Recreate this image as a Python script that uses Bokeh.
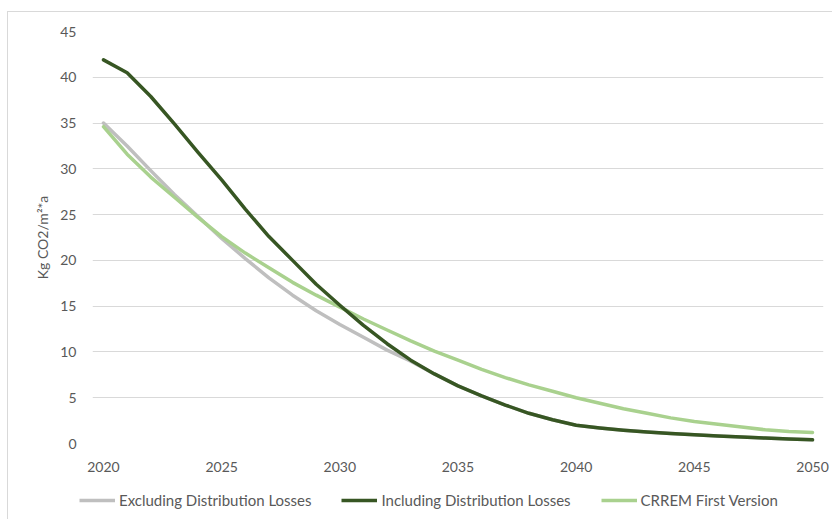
from bokeh.plotting import figure
from bokeh.layouts import column
from bokeh.models import (ColumnDataSource, FixedTicker, Range1d, Legend, LegendItem)
from bokeh.embed import file_html
from bokeh.resources import INLINE

years = list(range(2020, 2051))
excluding = [35.0, 32.5, 29.8, 27.2, 24.8, 22.4, 20.2, 18.1, 16.2, 14.5, 13.0,
             11.6, 10.2, 9.0, 7.6, 6.3, 5.2, 4.2, 3.3, 2.6, 2.0,
             1.7, 1.45, 1.25, 1.1, 0.95, 0.82, 0.7, 0.6, 0.5, 0.4]
including = [41.9, 40.5, 37.9, 34.9, 31.8, 28.8, 25.6, 22.6, 20.0, 17.4, 15.1,
             12.9, 10.9, 9.1, 7.6, 6.3, 5.2, 4.2, 3.3, 2.6, 2.0,
             1.7, 1.45, 1.25, 1.1, 0.95, 0.82, 0.7, 0.6, 0.5, 0.4]
crrem = [34.6, 31.6, 29.1, 26.9, 24.7, 22.6, 20.8, 19.2, 17.6, 16.2, 14.9,
         13.6, 12.4, 11.2, 10.1, 9.1, 8.1, 7.2, 6.4, 5.7, 5.0,
         4.4, 3.8, 3.3, 2.8, 2.4, 2.1, 1.8, 1.5, 1.3, 1.2]
series_names = ["Excluding Distribution Losses", "Including Distribution Losses",
                "CRREM First Version"]
x_ticks = [2020, 2025, 2030, 2035, 2040, 2045, 2050]
y_ticks = [0, 5, 10, 15, 20, 25, 30, 35, 40, 45]
y_label = "Kg CO2/m²*a"

FONT = "Lato"
TXT = "#595959"
COLORS = ["#BFBFBF", "#375623", "#A9D18E"]

src = ColumnDataSource(dict(year=years, excl=excluding, incl=including, crrem=crrem))

p = figure(width=824, height=465, output_backend="svg", toolbar_location=None,
           x_range=Range1d(2019.535, 2050.465), y_range=Range1d(0, 45),
           min_border_left=84, min_border_right=9, min_border_top=19,
           min_border_bottom=34)
p.outline_line_color = None
p.background_fill_color = "white"
p.border_fill_color = "white"

r1 = p.line("year", "excl", source=src, line_color=COLORS[0], line_width=3.5,
            line_join="round", line_cap="round")
r3 = p.line("year", "crrem", source=src, line_color=COLORS[2], line_width=3.5,
            line_join="round", line_cap="round")
r2 = p.line("year", "incl", source=src, line_color=COLORS[1], line_width=3.5,
            line_join="round", line_cap="round")

for ax in (p.xaxis[0], p.yaxis[0]):
    ax.axis_line_color = None
    ax.major_tick_line_color = None
    ax.minor_tick_line_color = None
    ax.major_label_text_font = FONT
    ax.major_label_text_font_size = "14px"
    ax.major_label_text_color = TXT

p.xaxis.ticker = FixedTicker(ticks=x_ticks)
p.yaxis.ticker = FixedTicker(ticks=y_ticks)
p.xaxis.major_label_standoff = 12
p.yaxis.major_label_standoff = 10
p.yaxis.axis_label = y_label
p.yaxis.axis_label_text_font = FONT
p.yaxis.axis_label_text_font_size = "14px"
p.yaxis.axis_label_text_font_style = "normal"
p.yaxis.axis_label_text_color = TXT
p.yaxis.axis_label_standoff = 6

p.xgrid.grid_line_color = None
p.ygrid.grid_line_color = "#D9D9D9"
p.ygrid.grid_line_width = 1

# legend strip (its lines lie outside its view; only the legend shows)
q = figure(width=824, height=42, output_backend="svg", toolbar_location=None,
           x_range=Range1d(0, 1), y_range=Range1d(100, 101),
           x_axis_location=None, y_axis_location=None, min_border=0)
q.frame_align = False
q.grid.visible = False
q.outline_line_color = None
q.border_fill_color = "white"
q.background_fill_color = "white"
l1 = q.line("year", "excl", source=src, line_color=COLORS[0], line_width=3.5)
l2 = q.line("year", "incl", source=src, line_color=COLORS[1], line_width=3.5)
l3 = q.line("year", "crrem", source=src, line_color=COLORS[2], line_width=3.5)

legend = Legend(items=[LegendItem(label=series_names[0], renderers=[l1]),
                       LegendItem(label=series_names[1], renderers=[l2]),
                       LegendItem(label=series_names[2], renderers=[l3])],
                orientation="horizontal", location=(71, 9),
                glyph_width=36, glyph_height=20, label_standoff=4, spacing=30,
                padding=0, margin=0, border_line_color=None,
                background_fill_alpha=0,
                label_text_font=FONT, label_text_font_size="15px",
                label_text_color=TXT)
q.add_layout(legend, "center")

layout = column(p, q, spacing=0,
                styles={"margin-left": "7px", "margin-top": "11px",
                        "border-left": "1px solid #D9D9D9",
                        "border-top": "1px solid #D9D9D9"})
open("out.html", "w").write(file_html(layout, INLINE))
